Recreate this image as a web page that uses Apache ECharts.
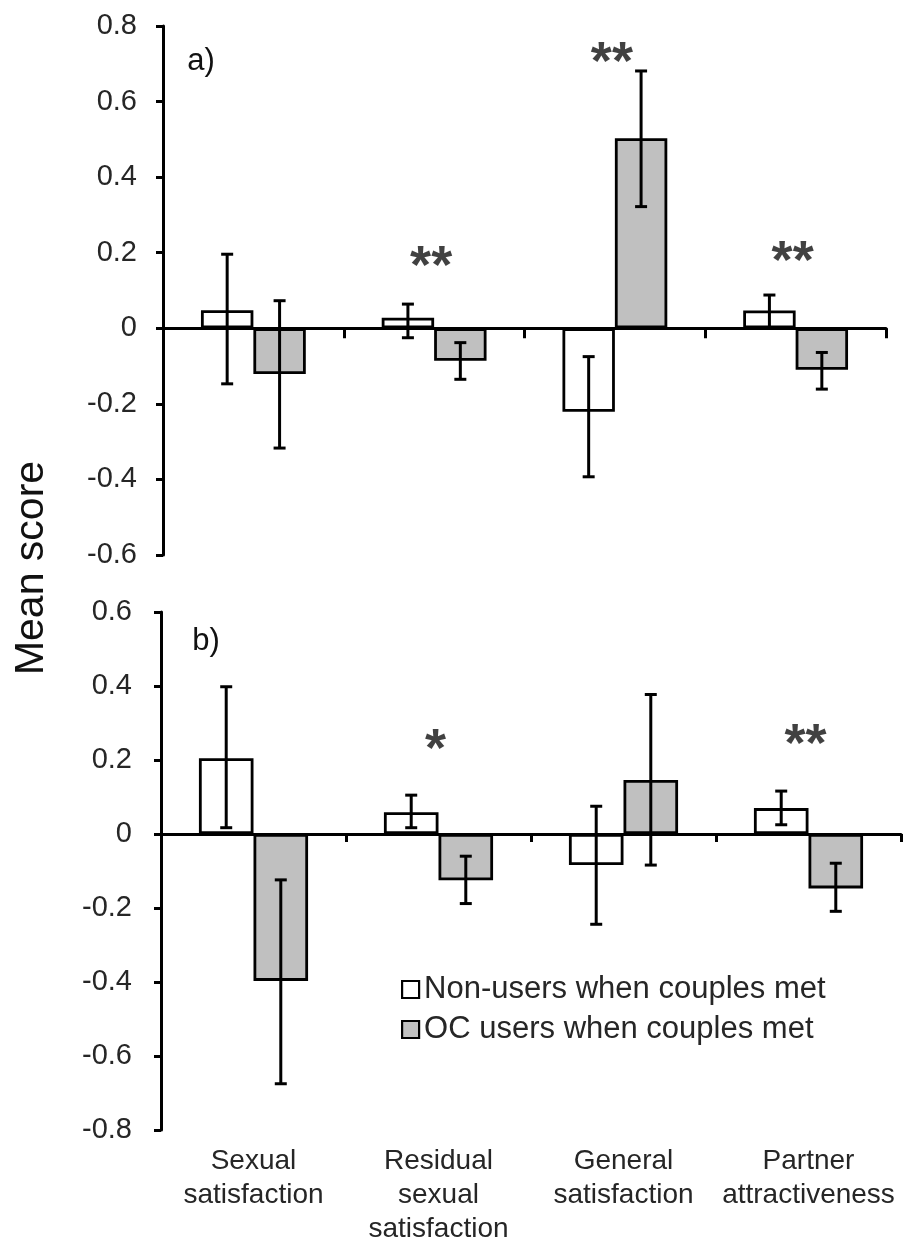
<!DOCTYPE html>
<html>
<head>
<meta charset="utf-8">
<script src="https://cdn.jsdelivr.net/npm/echarts@6/dist/echarts.min.js"></script>
<style>
  html, body { margin: 0; padding: 0; background: #ffffff; }
  #chart { width: 906px; height: 1244px; }
</style>
</head>
<body>
<div id="chart"></div>
<script>
// Categories shared by both panels
const categories = [
  'Sexual\nsatisfaction',
  'Residual\nsexual\nsatisfaction',
  'General\nsatisfaction',
  'Partner\nattractiveness'
];
const seriesNames = ['Non-users when couples met', 'OC users when couples met'];

// Panel a) means and error-bar ends [low, high]
const nonUsersA = [0.048, 0.028, -0.221, 0.047];
const ocUsersA = [-0.121, -0.086, 0.503, -0.110];
const nonUsersErrA = [[-0.147, 0.196], [-0.025, 0.064], [-0.393, -0.075], [0.002, 0.088]];
const ocUsersErrA = [[-0.317, 0.073], [-0.135, -0.038], [0.322, 0.681], [-0.161, -0.064]];

// Panel b) means and error-bar ends [low, high]
const nonUsersB = [0.205, 0.059, -0.084, 0.070];
const ocUsersB = [-0.397, -0.125, 0.146, -0.147];
const nonUsersErrB = [[0.017, 0.398], [0.017, 0.105], [-0.244, 0.075], [0.025, 0.116]];
const ocUsersErrB = [[-0.675, -0.124], [-0.188, -0.060], [-0.084, 0.377], [-0.209, -0.079]];

// Significance markers and their heights
const starsA = ['', '**', '**', '**'];
const starYA = [null, 0.19, 0.732, 0.203];
const starsB = ['', '*', '', '**'];
const starYB = [null, 0.256, null, 0.27];

// Y tick labels
const yTicksA = ['-0.6', '-0.4', '-0.2', '0', '0.2', '0.4', '0.6', '0.8'];
const yTicksB = ['-0.8', '-0.6', '-0.4', '-0.2', '0', '0.2', '0.4', '0.6'];

const FONT = '"Liberation Sans", Arial, Helvetica, sans-serif';
const INK = '#000000';
const TEXT = '#262626';
const GRAY = '#c0c0c0';
const GAP_A = 0.42;
const GAP_B = 0.41;

const lineStyle = { color: INK, width: 3 };

function yAxisFor(gridIndex, min, max, ticks, margin) {
  return {
    gridIndex: gridIndex,
    type: 'value',
    min: min,
    max: max,
    interval: 0.2,
    axisLine: { show: true, lineStyle: lineStyle },
    axisTick: { show: true, length: 7, lineStyle: lineStyle },
    splitLine: { show: false },
    axisLabel: {
      margin: margin,
      fontSize: 29,
      fontFamily: FONT,
      color: TEXT,
      formatter: function (v) {
        return ticks[Math.round((v - min) / 0.2)];
      }
    }
  };
}

function zeroAxisFor(gridIndex, tickLen) {
  return {
    gridIndex: gridIndex,
    type: 'category',
    data: categories,
    axisLine: { show: true, onZero: true, lineStyle: lineStyle },
    axisTick: { show: true, length: tickLen, lineStyle: lineStyle },
    axisLabel: { show: false },
    splitLine: { show: false }
  };
}

function barSeries(name, axisIdx, values, fill, gap) {
  return {
    type: 'bar',
    name: name,
    xAxisIndex: axisIdx,
    yAxisIndex: axisIdx,
    data: values,
    barGap: '0%',
    barCategoryGap: (gap * 100) + '%',
    itemStyle: { color: fill, borderColor: INK, borderWidth: 2.8 },
    emphasis: { disabled: true },
    z: 2
  };
}

function errorSeries(axisIdx, errs, side, gap) {
  return {
    type: 'custom',
    xAxisIndex: axisIdx,
    yAxisIndex: axisIdx,
    silent: true,
    z: 5,
    encode: { x: 0, y: [1, 2] },
    data: errs.map(function (e, i) { return [i, e[0], e[1]]; }),
    renderItem: function (params, api) {
      const cat = api.value(0);
      const lo = api.coord([cat, api.value(1)]);
      const hi = api.coord([cat, api.value(2)]);
      const band = api.size([1, 0])[0];
      const barW = band * (1 - gap) / 2;
      const x = lo[0] + side * barW / 2;
      const cap = 6;
      const st = { stroke: INK, lineWidth: 3 };
      return {
        type: 'group',
        children: [
          { type: 'line', shape: { x1: x, y1: lo[1], x2: x, y2: hi[1] }, style: st },
          { type: 'line', shape: { x1: x - cap, y1: hi[1], x2: x + cap, y2: hi[1] }, style: st },
          { type: 'line', shape: { x1: x - cap, y1: lo[1], x2: x + cap, y2: lo[1] }, style: st }
        ]
      };
    }
  };
}

function starSeries(axisIdx, marks, heights) {
  const data = [];
  marks.forEach(function (m, i) {
    if (m) data.push({ value: [i, heights[i]], label: { formatter: m } });
  });
  return {
    type: 'scatter',
    xAxisIndex: axisIdx,
    yAxisIndex: axisIdx,
    silent: true,
    symbolSize: 1,
    itemStyle: { color: 'rgba(0,0,0,0)' },
    z: 6,
    label: {
      show: true,
      position: 'inside',
      fontSize: 54,
      fontWeight: 'bold',
      fontFamily: FONT,
      color: '#111111',
      offset: [-3, 12]
    },
    data: data
  };
}

const chart = echarts.init(document.getElementById('chart'), null, { renderer: 'canvas' });

chart.setOption({
  animation: false,
  backgroundColor: '#ffffff',
  grid: [
    { left: 163, right: 20, top: 26, height: 529, outerBoundsMode: 'none', containLabel: false },
    { left: 161, right: 5, top: 612, height: 518, outerBoundsMode: 'none', containLabel: false }
  ],
  xAxis: [
    zeroAxisFor(0, 10),
    zeroAxisFor(1, 8),
    {
      gridIndex: 1,
      type: 'category',
      data: categories,
      position: 'bottom',
      axisLine: { show: false, onZero: false },
      axisTick: { show: false },
      splitLine: { show: false },
      axisLabel: {
        interval: 0,
        margin: 14,
        fontSize: 28,
        lineHeight: 34,
        fontFamily: FONT,
        color: TEXT
      }
    }
  ],
  yAxis: [
    yAxisFor(0, -0.6, 0.8, yTicksA, 26),
    yAxisFor(1, -0.8, 0.6, yTicksB, 29)
  ],
  legend: {
    orient: 'vertical',
    left: 401,
    top: 974,
    padding: 0,
    itemGap: 9,
    itemWidth: 17,
    itemHeight: 17,
    icon: 'rect',
    selectedMode: false,
    itemStyle: { borderColor: INK, borderWidth: 2.2 },
    textStyle: { fontSize: 31, fontFamily: FONT, color: TEXT },
    data: seriesNames
  },
  graphic: [
    {
      type: 'text', x: 32, y: 568, rotation: Math.PI / 2,
      style: { text: 'Mean score', fontSize: 41, fontFamily: FONT, fill: '#111111', align: 'center', verticalAlign: 'middle' }
    },
    {
      type: 'text', x: 201, y: 61,
      style: { text: 'a)', fontSize: 31, fontFamily: FONT, fill: '#111111', align: 'center', verticalAlign: 'middle' }
    },
    {
      type: 'text', x: 206, y: 641,
      style: { text: 'b)', fontSize: 31, fontFamily: FONT, fill: '#111111', align: 'center', verticalAlign: 'middle' }
    }
  ],
  series: [
    barSeries(seriesNames[0], 0, nonUsersA, '#ffffff', GAP_A),
    barSeries(seriesNames[1], 0, ocUsersA, GRAY, GAP_A),
    errorSeries(0, nonUsersErrA, -1, GAP_A),
    errorSeries(0, ocUsersErrA, 1, GAP_A),
    starSeries(0, starsA, starYA),
    barSeries(seriesNames[0], 1, nonUsersB, '#ffffff', GAP_B),
    barSeries(seriesNames[1], 1, ocUsersB, GRAY, GAP_B),
    errorSeries(1, nonUsersErrB, -1, GAP_B),
    errorSeries(1, ocUsersErrB, 1, GAP_B),
    starSeries(1, starsB, starYB)
  ]
});
</script>
</body>
</html>
